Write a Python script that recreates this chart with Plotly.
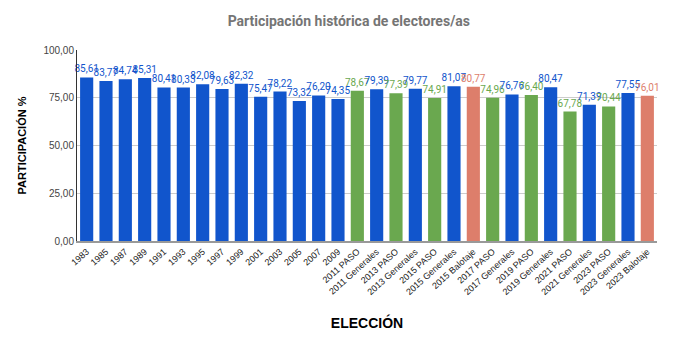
import plotly.graph_objects as go

categories = ["1983", "1985", "1987", "1989", "1991", "1993", "1995", "1997", "1999", "2001",
              "2003", "2005", "2007", "2009", "2011 PASO", "2011 Generales", "2013 PASO",
              "2013 Generales", "2015 PASO", "2015 Generales", "2015 Balotaje", "2017 PASO",
              "2017 Generales", "2019 PASO", "2019 Generales", "2021 PASO", "2021 Generales",
              "2023 PASO", "2023 Generales", "2023 Balotaje"]
values = [85.61, 83.77, 84.74, 85.31, 80.41, 80.33, 82.08, 79.63, 82.32, 75.47,
          78.22, 73.32, 76.20, 74.35, 78.67, 79.39, 77.39, 79.77, 74.91, 81.07,
          80.77, 74.96, 76.76, 76.40, 80.47, 67.78, 71.39, 70.44, 77.55, 76.01]
kinds = ["G"] * 14 + ["P", "G", "P", "G", "P", "G", "B", "P", "G", "P", "G", "P", "G", "P", "G", "B"]
ytick_vals = [0, 25, 50, 75, 100]

palette = {"G": "#1155cc", "P": "#6aa84f", "B": "#dd7e6b"}
colors = [palette[k] for k in kinds]

fig = go.Figure(go.Bar(
    x=categories, y=values,
    marker=dict(color=colors, line=dict(width=0)),
    text=values, texttemplate="%{y:.2f}", textposition="outside",
    textfont=dict(color=colors, size=10, family="Roboto"),
    constraintext="none", cliponaxis=False,
))

fig.update_layout(
    width=684, height=348,
    margin=dict(l=77, r=27, t=50, b=107),
    paper_bgcolor="white", plot_bgcolor="white",
    separators=",.",
    bargap=0.32,
    showlegend=False,
    title=dict(text="<b>Participación histórica de electores/as</b>", x=0.51, xanchor="center",
               y=0.94, yanchor="middle",
               font=dict(family="Roboto", size=14, color="#757575")),
)
fig.update_yaxes(
    range=[0, 100], tickvals=ytick_vals, tickformat=".2f",
    showgrid=True, gridcolor="#cccccc", gridwidth=1,
    showline=True, linecolor="#333333", linewidth=1,
    ticks="", zeroline=False,
    tickfont=dict(family="Liberation Sans, Arial", size=10, color="#444444"),
    title=dict(text="<b>PARTICIPACIÓN %</b>", standoff=14,
               font=dict(family="Liberation Sans, Arial", size=11, color="#000000")),
)
fig.update_xaxes(
    tickangle=-42, showline=True, linecolor="#999999", linewidth=2,
    ticks="", showgrid=False,
    tickfont=dict(family="Liberation Sans, Arial", size=9, color="#222222"),
    title=dict(text="<b>ELECCIÓN</b>", standoff=22,
               font=dict(family="Liberation Sans, Arial", size=14, color="#000000")),
)

fig.write_html("out.html")
